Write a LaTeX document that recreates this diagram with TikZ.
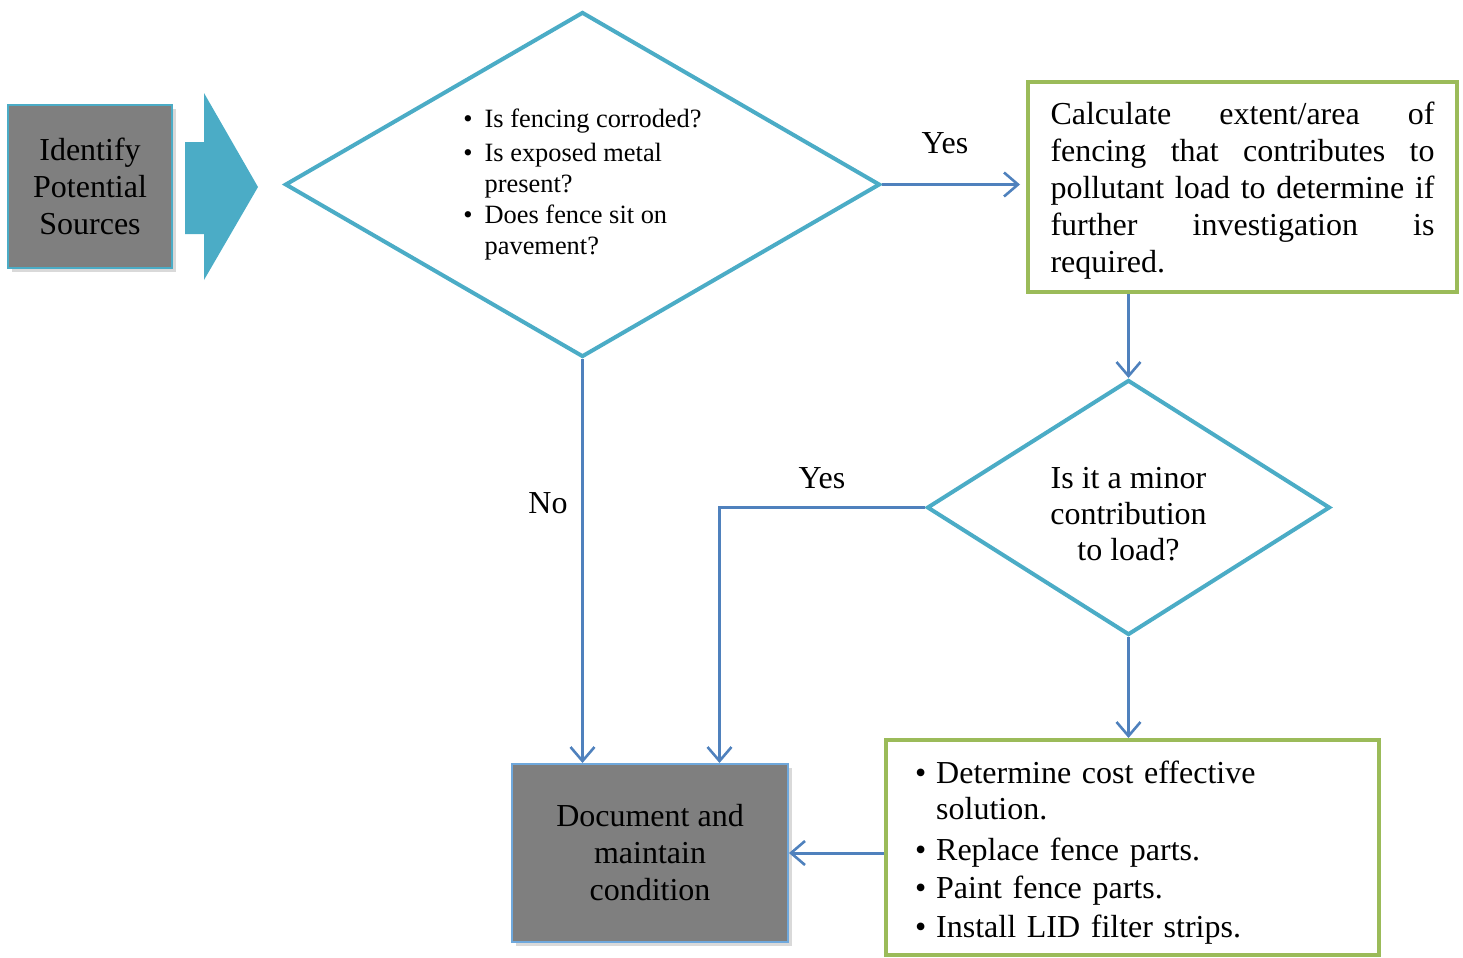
\documentclass[tikz,border=0pt]{standalone}
\usepackage{fontspec}
\setmainfont{Liberation Serif}
\usetikzlibrary{shapes.geometric,arrows.meta,calc,shadows}
\definecolor{cTeal}{HTML}{4BACC6}
\definecolor{cBlue}{HTML}{4F81BD}
\definecolor{cGreen}{HTML}{9BBB59}
\definecolor{cGray}{HTML}{7F7F7F}
\definecolor{cLightBlue}{HTML}{6FA8DC}
\newcommand\fulljustline[1]{\makebox[192pt][l]{#1}}
\begin{document}
\begin{tikzpicture}[x=0.5pt,y=-0.5pt,
  every node/.style={font=\fontsize{16}{18.5}\selectfont},
  graybox/.style={rectangle, fill=cGray, draw=cTeal, line width=1pt, align=center, inner sep=0pt,
    drop shadow={shadow xshift=2pt, shadow yshift=-2pt, opacity=0.3}},
  greenbox/.style={rectangle, draw=cGreen, line width=2pt, fill=white, inner ysep=0pt},
  decision/.style={diamond, draw=cTeal, line width=2pt, inner sep=0pt, fill=white},
  flow/.style={draw=cBlue, line width=1.5pt, -{Straight Barb[length=7pt,width=12pt,line width=1.3pt]}},
  lbl/.style={inner sep=0pt}
]
\useasboundingbox (0,0) rectangle (1463,958);

% source box and block arrow
\node[graybox, minimum width=82pt, minimum height=81.5pt] (src) at (90,186.5) {Identify\\Potential\\Sources};
\fill[cTeal] (185,142) -- (204,142) -- (204,93) -- (258,187) -- (204,280) -- (204,234) -- (185,234) -- cycle;

% first decision
\node[decision, aspect=1.72, minimum width=297.5pt, minimum height=172.5pt] (q1) at (582.5,184.5)
  {\fontsize{13.2}{15.5}\selectfont\begin{tabular}{@{}l@{\hspace{6pt}}l@{}}
   \textbullet & Is fencing corroded?\\[1.5pt]
   \textbullet & Is exposed metal\\
               & present?\\
   \textbullet & Does fence sit on\\
               & pavement?
   \end{tabular}};

% calculate box
\node[greenbox, minimum width=214.5pt, minimum height=105pt, text width=192pt, inner xsep=0pt, align=left] (calcbox) at (1242.5,187)
  {\fulljustline{\rule{0pt}{15pt}Calculate\hfill extent/area\hfill of}\\
   \fulljustline{fencing\hfill that\hfill contributes\hfill to}\\
   \fulljustline{pollutant\hfill load\hfill to\hfill determine\hfill if}\\
   \fulljustline{further\hfill investigation\hfill is}\\
   required.};

% second decision
\node[decision, aspect=1.58, minimum width=201.5pt, minimum height=127.5pt, align=center, font=\fontsize{16}{18}\selectfont] (q2) at (1128.5,507.5)
  {\rule{0pt}{17pt}Is it a minor\\contribution\\to load?};

% actions box
\node[greenbox, minimum width=246.5pt, minimum height=107.5pt, text width=217.5pt, inner xsep=0pt, align=left] (act) at (1132.5,847.5)
  {\fontsize{16}{18}\selectfont\begin{tabular}{@{}l@{\hspace{5pt}}l@{}}
   \rule{0pt}{18.6pt}\textbullet & Determine cost effective\\
               & solution.\\[2.5pt]
   \textbullet & Replace fence parts.\\[1pt]
   \textbullet & Paint fence parts.\\[1.5pt]
   \textbullet & Install LID filter strips.
   \end{tabular}};

% document box
\node[graybox, draw=cLightBlue, minimum width=138pt, minimum height=89pt] (doc) at (650,853) {Document and\\maintain\\condition};

% connectors
\draw[flow, shorten >=3pt] (q1.east) -- (q1.east -| calcbox.west);
\node[lbl] (yes1) at (945,143) {Yes};
\draw[flow] (calcbox.south -| q2.north) -- (q2.north);
\draw[flow] (q2.south) -- (q2.south |- act.north);
\draw[flow] (q1.south) -- (q1.south |- doc.north);
\node[lbl] (no1) at (548,503) {No};
\coordinate (drop) at ($(doc.north west)!0.75!(doc.north east)$);
\draw[flow] (q2.west) -| (drop);
\node[lbl] (yes2) at (822,478) {Yes};
\draw[flow] (act.west |- doc.east) -- (doc.east);
\end{tikzpicture}
\end{document}
